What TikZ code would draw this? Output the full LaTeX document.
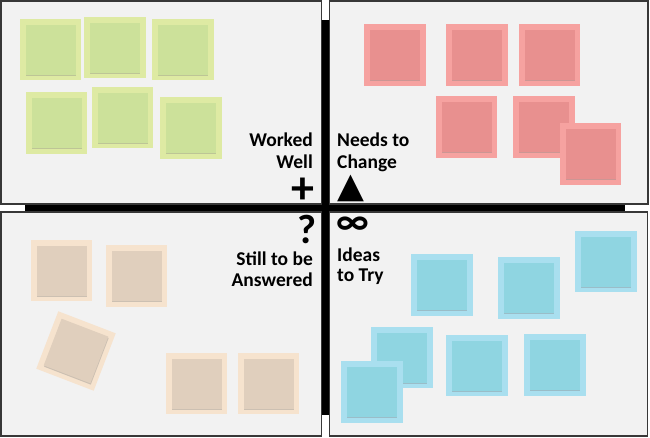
\documentclass[tikz,border=0pt]{standalone}
\usepackage{fontspec}
\setmainfont{Carlito}
\newfontfamily\djv{DejaVu Sans}
\usetikzlibrary{shadows}
\definecolor{panelbg}{HTML}{F2F2F2}
\definecolor{panelline}{HTML}{383838}
\definecolor{gO}{HTML}{DEEAA3}
\definecolor{gI}{HTML}{CCE19A}
\definecolor{rO}{HTML}{F6A2A0}
\definecolor{rI}{HTML}{E8908F}
\definecolor{tO}{HTML}{F6E3CE}
\definecolor{tI}{HTML}{E0CFBD}
\definecolor{bO}{HTML}{A9DFEF}
\definecolor{bI}{HTML}{8FD5E1}
\newcommand\snote[5][0]{%
  \node[#3out, rotate=#1] (#2) at (#4,#5) {};
  \node[#3in, rotate=#1] (#2in) at (#2.center) {};}
\begin{document}
\begin{tikzpicture}[x=1pt,y=-1pt,
  panel/.style={fill=panelbg, draw=panelline, line width=1.1pt},
  noteout/.style={minimum size=61.5pt, inner sep=0pt, outer sep=0pt},
  notein/.style={minimum size=50pt, inner sep=0pt, outer sep=0pt,
    drop shadow={shadow xshift=0.4pt, shadow yshift=-1.3pt, opacity=.35}},
  gout/.style={noteout, fill=gO}, gin/.style={notein, fill=gI},
  rout/.style={noteout, fill=rO}, rin/.style={notein, fill=rI},
  tout/.style={noteout, fill=tO}, tin/.style={notein, fill=tI},
  bout/.style={noteout, fill=bO}, bin/.style={notein, fill=bI},
  lbl/.style={font=\bfseries\fontsize{19.5}{24}\selectfont, inner sep=0pt},
  sym/.style={inner sep=0pt}]
\useasboundingbox (0,0) rectangle (650,437);
% black cross behind panels
\fill[black] (25,200) rectangle (625,214);
\fill[black] (318,20) rectangle (333,415);
% panels
\draw[panel] (1,1) rectangle (321.5,204);
\draw[panel] (329.5,1) rectangle (648,204);
\draw[panel] (1,212) rectangle (321.5,436);
\draw[panel] (329.5,212) rectangle (647.5,436);
% green notes
\snote{g1}{g}{50.5}{49.5}
\snote{g2}{g}{115}{47.5}
\snote{g3}{g}{183}{49.5}
\snote{g4}{g}{56.5}{123}
\snote{g5}{g}{122.5}{117.5}
\snote{g6}{g}{191}{128}
% red notes
\snote{r1}{r}{395}{55}
\snote{r2}{r}{477}{55}
\snote{r3}{r}{549.5}{55}
\snote{r4}{r}{466.5}{127}
\snote{r5}{r}{544}{127}
\snote{r6}{r}{590.5}{154}
% tan notes
\snote{t1}{t}{61.5}{270.5}
\snote{t2}{t}{136.5}{276}
\snote[-21]{t3}{t}{76}{351}
\snote{t4}{t}{196.5}{383.5}
\snote{t5}{t}{268.5}{383.5}
% blue notes
\snote{b1}{b}{442}{285}
\snote{b2}{b}{529}{288}
\snote{b3}{b}{606}{261.5}
\snote{b4}{b}{402}{357.5}
\snote{b5}{b}{372}{392}
\snote{b6}{b}{477}{365.5}
\snote{b7}{b}{555}{365}
% labels
\node[lbl, anchor=base east] (ww1) at (313,146) {Worked};
\node[lbl, anchor=base east] (ww2) at (313,168.5) {Well};
\node[lbl, anchor=base west] (nc1) at (337,146.5) {Needs to};
\node[lbl, anchor=base west] (nc2) at (337,168.5) {Change};
\node[lbl, anchor=base east] (sa1) at (313,265) {Still to be};
\node[lbl, anchor=base east] (sa2) at (313,286.5) {Answered};
\node[lbl, anchor=base west] (it1) at (337,261) {Ideas};
\node[lbl, anchor=base west] (it2) at (337,281) {to Try};
% symbols
\node[sym, font=\bfseries\fontsize{46}{46}\selectfont] (plus) at (303,190.5) {+};
\node[sym, font=\bfseries\fontsize{41}{41}\selectfont] (qm) at (306.5,229.5) {?};
\node[sym, font=\djv\fontsize{35}{35}\selectfont] (tri) at (350.5,188) {▲};
\node[sym, font=\bfseries\fontsize{39}{39}\selectfont] (inf) at (353,226) {∞};
\end{tikzpicture}
\end{document}
